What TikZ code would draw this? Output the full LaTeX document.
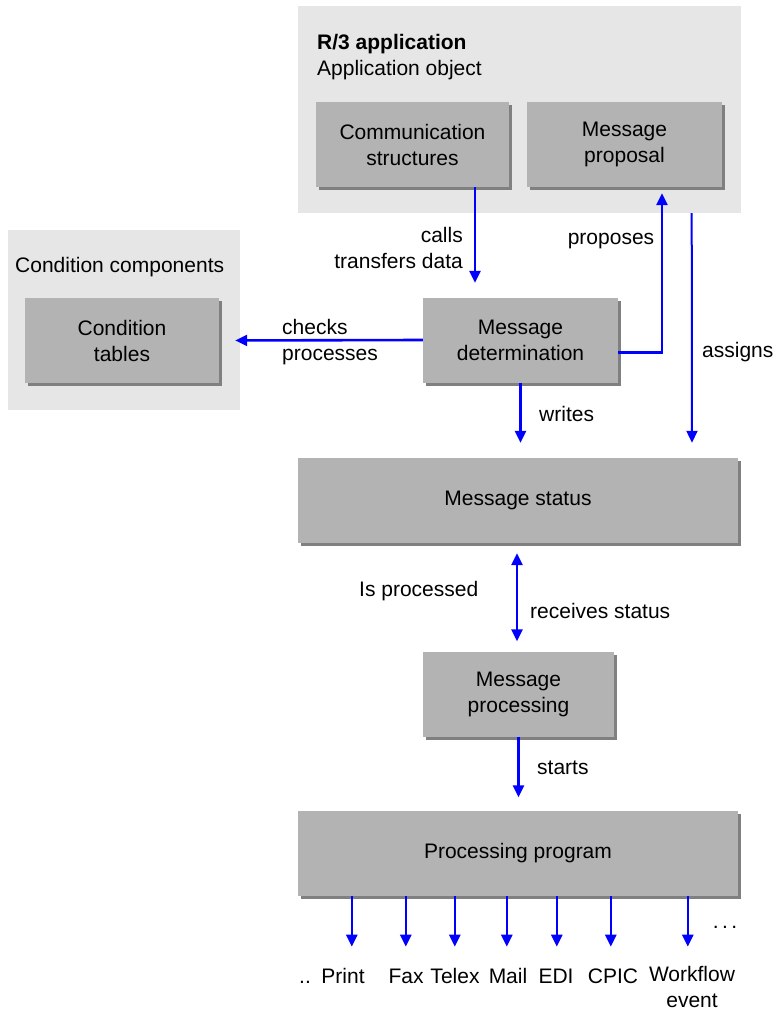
\documentclass[tikz,border=0pt]{standalone}
\usepackage{fontspec}
\setmainfont{Liberation Sans}
\usetikzlibrary{arrows.meta}
\usetikzlibrary{shadows}
\usetikzlibrary{positioning}
\definecolor{framegray}{RGB}{230,230,230}
\definecolor{boxgray}{RGB}{179,179,179}
\definecolor{shadegray}{RGB}{128,128,128}

\tikzset{
	frame/.style={fill=framegray, inner sep=0pt},
	box/.style={fill=boxgray, align=center, inner sep=0pt, minimum height=85pt,
		general shadow={fill=shadegray, shadow xshift=3pt, shadow yshift=-3pt}},
	flow/.style={blue, line width=2.6pt, -{Triangle[length=12pt,width=11pt]}},
	flowboth/.style={flow, {Triangle[length=12pt,width=11pt]}-{Triangle[length=12pt,width=11pt]}},
	lbl/.style={inner sep=0pt, align=left}
}

\begin{document}
\begin{tikzpicture}[x=1pt,y=-1pt,font=\fontsize{21pt}{26pt}\selectfont]
	\useasboundingbox (0,0) rectangle (772,1011);
	
	% grey frames
	\node[frame, minimum width=443pt, minimum height=207pt] (rthree) at (519.5,109.5) {};
	\node[frame, minimum width=232pt, minimum height=180pt] (condframe) at (124,320) {};
	\node[lbl, anchor=west] (rthreetitle) at (317,57) {\textbf{R/3 application}\\Application object};
	\node[lbl, anchor=west] (condtitle) at (15,267) {Condition components};
	
	% boxes
	\node[box, minimum width=193pt] (comm) at (412.5,144.5) {Communication\\structures};
	\node[box, minimum width=195pt] (prop) at (624.5,144.5) {Message\\proposal};
	\node[box, minimum width=194pt] (tables) at (122,340.5) {Condition\\tables};
	\node[box, minimum width=195pt] (det) at (520.5,340.5) {Message\\determination};
	\node[box, minimum width=440pt] (status) at (518,500.5) {Message status};
	\node[box, minimum width=191pt] (proc) at (518.5,694) {Message\\processing};
	\node[box, minimum width=440pt] (prog) at (518,853) {Processing program};
	
	% connectors
	\draw[flow, shorten >=15pt] ([xshift=62.5pt]comm.south) -- ([xshift=-45.5pt]det.north) ;
	\draw[flow, shorten >=6pt] ([yshift=-12pt]det.east) -| ([xshift=37.5pt]prop.south) ;
	\draw[flow, line width=2pt, shorten >=15pt] ([xshift=-49.5pt]rthree.south east) -- ([xshift=174pt]status.north) ;
	\draw[flow, shorten >=16pt] ([yshift=0.5pt]det.west) -- (tables.east) ;
	\draw[flow, shorten >=15pt] (det.south) -- (status.north -| det.south) ;
	\draw[flowboth, shorten <=10pt, shorten >=10pt] ([xshift=-1pt]status.south) -- ([xshift=-1.5pt]proc.north) ;
	\draw[flow, shorten >=13pt] (proc.south) -- (prog.north -| proc.south) ;
	\foreach \d in {54,108,157,209,259,313,390}
		\draw[flow] ([xshift=\d pt]prog.south west) -- ++(0,51);
	
	% labels
	\node[lbl, anchor=east, align=right] (callslbl) at (463,248) {calls\\transfers data};
	\node[lbl] (proplbl) at (611,241) {proposes};
	\node[lbl, anchor=west] (checklbl) at (282,342) {checks\\processes};
	\node[lbl, anchor=west] (assignlbl) at (702,352) {assigns};
	\node[lbl, anchor=west] (writelbl) at (539,414) {writes};
	\node[lbl, anchor=west] (islbl) at (359,591) {Is processed};
	\node[lbl, anchor=west] (recvlbl) at (530,611) {receives status};
	\node[lbl, anchor=west] (startlbl) at (537,768) {starts};
	
	% output channels
	\node[lbl, anchor=base] (dots) at (305,983) {..};
	\foreach \x/\t/\n in {343/Print/print,406/Fax/fax,455/Telex/telex,508/Mail/mail,556/EDI/edi,613/CPIC/cpic}
		\node[lbl, anchor=base] (out\n) at (\x,983) {\t};
	\node[lbl, align=center] (outwf) at (692,987) {Workflow\\event};
	\node[lbl, anchor=base] (more) at (725,928) {.\,.\,.};
\end{tikzpicture}
\end{document}
